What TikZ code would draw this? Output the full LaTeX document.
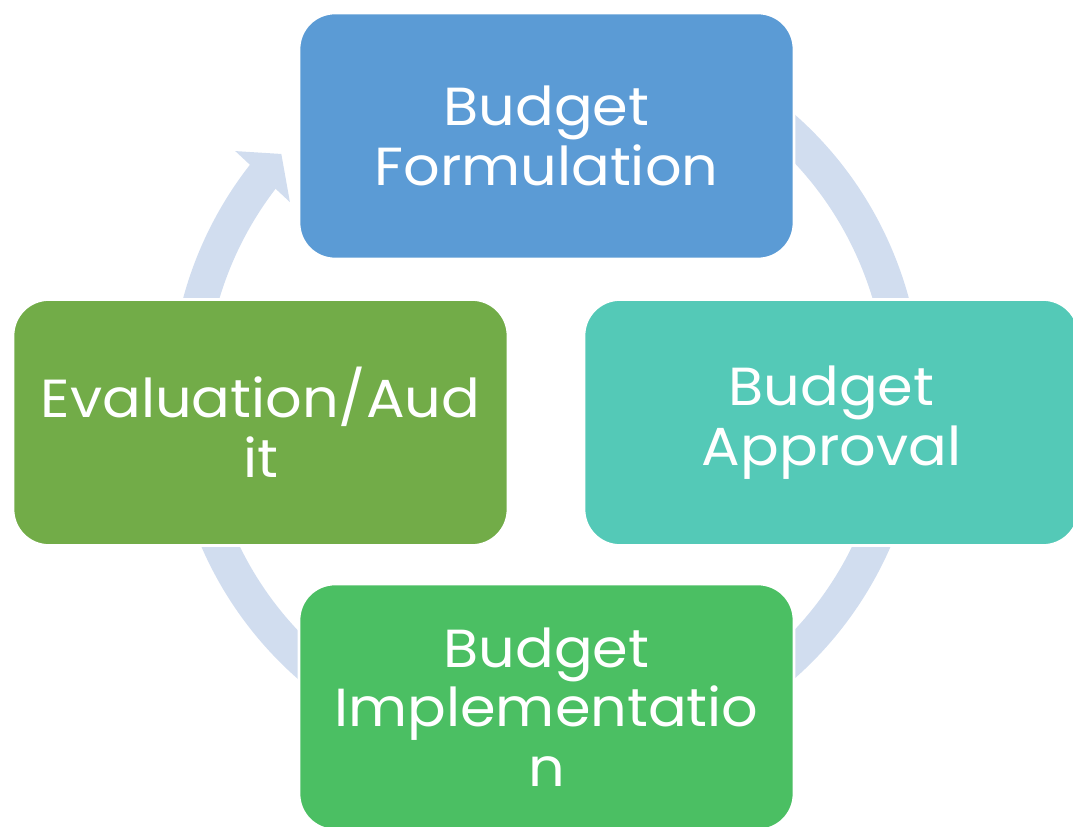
\documentclass[tikz,border=0pt]{standalone}
\usepackage{fontspec}
\setmainfont{Poppins}[FakeStretch=1.07]
\definecolor{ringc}{HTML}{D1DDEF}
\definecolor{box1}{HTML}{5B9BD5}
\definecolor{box2}{HTML}{54C9B7}
\definecolor{box3}{HTML}{4BBF63}
\definecolor{box4}{HTML}{72AC48}

\begin{document}
\begin{tikzpicture}[x=0.02cm,y=0.02cm,font=\fontsize{30.5}{34}\selectfont]
\tikzset{stage/.style={draw=white, line width=1.5pt, rounded corners=0.72cm,
    minimum width=9.9cm, minimum height=4.92cm, text=white, align=center, inner sep=0pt}}
\useasboundingbox (0,0) rectangle (1073,826);
\clip (0,0) rectangle (1073,826);

% Ring behind the boxes:
\coordinate (hub) at (546,429.5);
\begin{scope}[shift={(hub)}]
\draw [ringc, line width=0.7cm] (110:358.5) arc [start angle=110, end angle=-218.1, radius=7.17cm];
\fill [ringc] (141.7:396) -- (137.5:359) -- (142.8:321.5) -- cycle;
\end{scope}

% Stages:
\node [stage, fill=box1] (formulation) at (546.5,690) {Budget\\Formulation};
\node [stage, fill=box2] (approval) at (831.5,403.5) {Budget\\Approval};
\node [stage, fill=box3] (implementation) at (546.5,119) {Budget\\Implementatio\\n};
\node [stage, fill=box4] (audit) at (260.5,403.5) {Evaluation/Aud\\it};
\end{tikzpicture}
\end{document}
